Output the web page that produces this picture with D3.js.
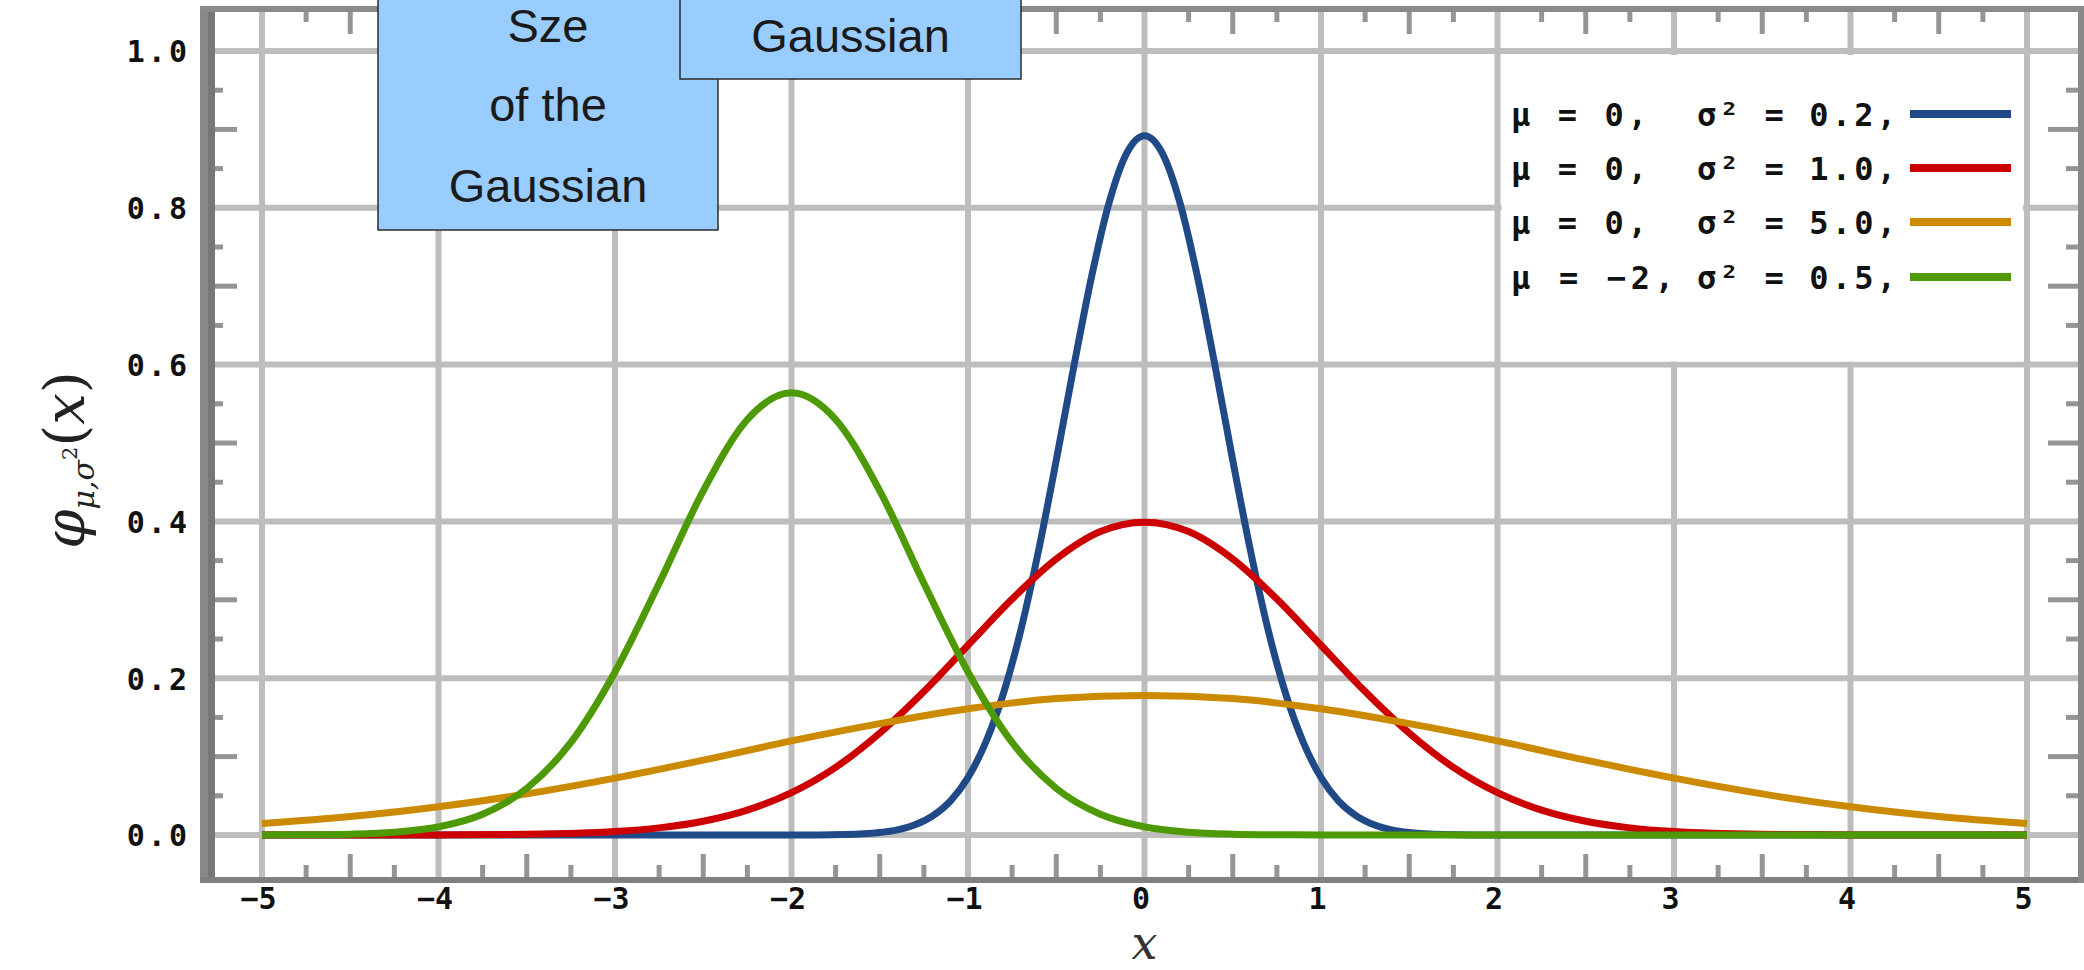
<!DOCTYPE html>
<html>
<head>
<meta charset="utf-8">
<script src="https://cdn.jsdelivr.net/npm/d3@7"></script>
<style>
  html, body { margin: 0; padding: 0; background: #ffffff; }
  svg { display: block; }
</style>
</head>
<body>
<svg id="chart" width="2084" height="970"></svg>
<script>
// ---------------- data ----------------
const xTicks = [-5, -4, -3, -2, -1, 0, 1, 2, 3, 4, 5];
const xTickLabels = ["\u22125", "\u22124", "\u22123", "\u22122", "\u22121", "0", "1", "2", "3", "4", "5"];
const yTicks = [0, 0.2, 0.4, 0.6, 0.8, 1.0];
const yTickLabels = ["0.0", "0.2", "0.4", "0.6", "0.8", "1.0"];

const seriesNames = ["blue", "red", "orange", "green"];
const legendMu = ["\u03bc = 0,", "\u03bc = 0,", "\u03bc = 0,", "\u03bc = \u22122,"];
const legendSigma = ["\u03c3\u00b2 = 0.2,", "\u03c3\u00b2 = 1.0,", "\u03c3\u00b2 = 5.0,", "\u03c3\u00b2 = 0.5,"];
const seriesColors = ["#204a87", "#cc0000", "#cc8a00", "#4e9a06"];

const blueX = [-5, -3, -2, -1.7, -1.5, -1.4, -1.3, -1.2, -1.1, -1.0, -0.9, -0.8, -0.7, -0.6, -0.5, -0.4, -0.3, -0.2, -0.1, 0,
               0.1, 0.2, 0.3, 0.4, 0.5, 0.6, 0.7, 0.8, 0.9, 1.0, 1.1, 1.2, 1.3, 1.4, 1.5, 1.7, 2, 3, 5];
const blueY = [0, 0, 0, 0.0007, 0.0032, 0.0066, 0.0130, 0.0244, 0.0433, 0.0733, 0.118, 0.180, 0.262, 0.363, 0.478, 0.598, 0.712, 0.807, 0.870, 0.892,
               0.870, 0.807, 0.712, 0.598, 0.478, 0.363, 0.262, 0.180, 0.118, 0.0733, 0.0433, 0.0244, 0.0130, 0.0066, 0.0032, 0.0007, 0, 0, 0];

const redX = [-5, -4.5, -4, -3.5, -3, -2.75, -2.5, -2.25, -2, -1.75, -1.5, -1.25, -1, -0.75, -0.5, -0.25, 0,
              0.25, 0.5, 0.75, 1, 1.25, 1.5, 1.75, 2, 2.25, 2.5, 2.75, 3, 3.5, 4, 4.5, 5];
const redY = [0, 0, 0.0001, 0.0009, 0.0044, 0.0091, 0.0175, 0.0317, 0.0540, 0.0863, 0.130, 0.183, 0.242, 0.301, 0.352, 0.387, 0.399,
              0.387, 0.352, 0.301, 0.242, 0.183, 0.130, 0.0863, 0.0540, 0.0317, 0.0175, 0.0091, 0.0044, 0.0009, 0.0001, 0, 0];

const orangeX = [-5, -4.5, -4, -3.5, -3, -2.5, -2, -1.5, -1, -0.5, 0, 0.5, 1, 1.5, 2, 2.5, 3, 3.5, 4, 4.5, 5];
const orangeY = [0.0146, 0.0235, 0.0360, 0.0524, 0.0725, 0.0955, 0.120, 0.142, 0.161, 0.174, 0.178,
                 0.174, 0.161, 0.142, 0.120, 0.0955, 0.0725, 0.0524, 0.0360, 0.0235, 0.0146];

const greenX = [-5, -4.75, -4.5, -4.25, -4, -3.75, -3.5, -3.25, -3, -2.75, -2.5, -2.25, -2, -1.75, -1.5, -1.25, -1,
                -0.75, -0.5, -0.25, 0, 0.25, 0.5, 0.75, 1, 2, 3, 4, 5];
const greenY = [0.0001, 0.0003, 0.0011, 0.0036, 0.0103, 0.0264, 0.0595, 0.118, 0.208, 0.321, 0.439, 0.530, 0.564, 0.530, 0.439, 0.321, 0.208,
                0.118, 0.0595, 0.0264, 0.0103, 0.0036, 0.0011, 0.0003, 0.0001, 0, 0, 0, 0];

const boxLines1 = ["Sze", "of the", "Gaussian"];
const boxLines2 = ["Gaussian"];

// ---------------- drawing ----------------
const svg = d3.select("#chart");
const W = 2084, H = 970;

const x = d3.scaleLinear().domain([-5, 5]).range([262, 2027]);
const y = d3.scaleLinear().domain([0, 1]).range([835, 51]);

const frame = { left: 200, leftInner: 215, top: 6, topInner: 12, bottom: 883, bottomInner: 877, right: 2084, rightInner: 2078 };

svg.append("rect").attr("width", W).attr("height", H).attr("fill", "#ffffff");

const gridColor = "#bdbdbd";
// vertical gridlines
svg.append("g").selectAll("line").data(xTicks).join("line")
  .attr("x1", d => x(d)).attr("x2", d => x(d))
  .attr("y1", frame.topInner).attr("y2", frame.bottomInner)
  .attr("stroke", gridColor).attr("stroke-width", 6);
// horizontal gridlines
svg.append("g").selectAll("line").data(yTicks).join("line")
  .attr("x1", frame.leftInner).attr("x2", frame.rightInner)
  .attr("y1", d => y(d)).attr("y2", d => y(d))
  .attr("stroke", gridColor).attr("stroke-width", 6);

// legend background (hides grid between 1.0 and 0.6 lines)
svg.append("rect").attr("x", x(2) + 4).attr("y", y(1.0) + 4)
  .attr("width", x(5) - x(2) - 8).attr("height", y(0.6) - y(1.0) - 7)
  .attr("fill", "#ffffff");

// minor ticks
const tickColor = "#959595";
const xMinor = d3.range(-4.75, 5, 0.25).filter(v => Math.abs(v - Math.round(v)) > 1e-6);
const isHalf = v => Math.abs(Math.abs(v % 1) - 0.5) < 1e-6;
const gMinor = svg.append("g").attr("stroke", tickColor).attr("stroke-width", 5);
gMinor.selectAll(".tb").data(xMinor).join("line").attr("class", "tb")
  .attr("x1", d => x(d)).attr("x2", d => x(d))
  .attr("y1", frame.bottomInner).attr("y2", d => frame.bottomInner - (isHalf(d) ? 23 : 12));
gMinor.selectAll(".tt").data(xMinor).join("line").attr("class", "tt")
  .attr("x1", d => x(d)).attr("x2", d => x(d))
  .attr("y1", frame.topInner).attr("y2", d => frame.topInner + (isHalf(d) ? 22 : 10));
const yMinor = d3.range(0.05, 1.0, 0.05).filter(v => Math.abs(v * 5 - Math.round(v * 5)) > 1e-6);
const isOddTenth = v => Math.abs(v * 10 - Math.round(v * 10)) < 1e-6;
gMinor.selectAll(".tl").data(yMinor).join("line").attr("class", "tl")
  .attr("y1", d => y(d)).attr("y2", d => y(d))
  .attr("x1", frame.leftInner).attr("x2", d => frame.leftInner + (isOddTenth(d) ? 22 : 8));
gMinor.selectAll(".tr").data(yMinor).join("line").attr("class", "tr")
  .attr("y1", d => y(d)).attr("y2", d => y(d))
  .attr("x1", frame.rightInner).attr("x2", d => frame.rightInner - (isOddTenth(d) ? 30 : 12));

// frame
const gFrame = svg.append("g");
gFrame.append("rect").attr("x", frame.left).attr("y", frame.top).attr("width", 8).attr("height", frame.bottom - frame.top).attr("fill", "#888888");
gFrame.append("rect").attr("x", frame.left + 8).attr("y", frame.top).attr("width", 7).attr("height", frame.bottom - frame.top).attr("fill", "#777777");
gFrame.append("rect").attr("x", frame.left).attr("y", frame.bottomInner).attr("width", W - frame.left).attr("height", 6).attr("fill", "#808080");
gFrame.append("rect").attr("x", frame.left).attr("y", frame.top).attr("width", W - frame.left).attr("height", 6).attr("fill", "#8a8a8a");
gFrame.append("rect").attr("x", frame.rightInner).attr("y", frame.top).attr("width", 6).attr("height", frame.bottom - frame.top).attr("fill", "#8a8a8a");

// curves
const line = d3.line().x(d => x(d[0])).y(d => y(d[1])).curve(d3.curveMonotoneX);
const seriesData = [
  d3.zip(blueX, blueY),
  d3.zip(redX, redY),
  d3.zip(orangeX, orangeY),
  d3.zip(greenX, greenY)
];
svg.append("g").selectAll("path").data(seriesData).join("path")
  .attr("d", d => line(d))
  .attr("fill", "none")
  .attr("stroke", (d, i) => seriesColors[i])
  .attr("stroke-width", 7)
  .attr("stroke-linejoin", "round");

// axes labels (tick text)
const monoFont = "'DejaVu Sans Mono', 'Liberation Mono', monospace";
const gx = svg.append("g").attr("transform", "translate(-4, 887.5)")
  .call(d3.axisBottom(x).tickValues(xTicks).tickFormat((d, i) => xTickLabels[i]).tickSize(0).tickPadding(0));
gx.select(".domain").remove();
gx.selectAll("text").attr("font-family", monoFont).attr("font-size", 30).attr("font-weight", "bold").attr("fill", "#111");

const gy = svg.append("g").attr("transform", "translate(190, 0)")
  .call(d3.axisLeft(y).tickValues(yTicks).tickFormat((d, i) => yTickLabels[i]).tickSize(0).tickPadding(0));
gy.select(".domain").remove();
gy.selectAll("text").attr("font-family", monoFont).attr("font-size", 30).attr("font-weight", "bold").attr("fill", "#111")
  .attr("letter-spacing", 3).attr("dy", "0.36em");

// axis titles
svg.append("text").attr("x", x(0)).attr("y", 959).attr("text-anchor", "middle")
  .attr("font-family", "'DejaVu Serif', serif").attr("font-style", "italic").attr("font-size", 46)
  .attr("fill", "#333").text("x");

const yl = svg.append("text").attr("transform", "translate(84, 460) rotate(-90)")
  .attr("text-anchor", "middle").attr("font-family", "'DejaVu Serif', serif")
  .attr("font-size", 56).attr("fill", "#222");
yl.append("tspan").attr("font-style", "italic").text("\u03c6");
yl.append("tspan").attr("font-style", "italic").attr("font-size", 30).attr("dy", 10).text("\u03bc,\u03c3");
yl.append("tspan").attr("font-size", 21).attr("dy", -17).text("2");
yl.append("tspan").attr("dy", 7).text("(");
yl.append("tspan").attr("font-style", "italic").text("x");
yl.append("tspan").text(")");

// legend
const legendRowsY = [114, 168, 222, 277];
const gLeg = svg.append("g");
seriesNames.forEach((name, i) => {
  const cy = legendRowsY[i];
  gLeg.append("text").attr("x", 1511).attr("y", cy + 12)
    .attr("font-family", monoFont).attr("font-size", 32).attr("font-weight", "bold").attr("fill", "#111")
    .attr("textLength", i === 3 ? 163 : 136).attr("lengthAdjust", "spacing")
    .text(legendMu[i]);
  gLeg.append("text").attr("x", 1697).attr("y", cy + 12)
    .attr("font-family", monoFont).attr("font-size", 32).attr("font-weight", "bold").attr("fill", "#111")
    .attr("textLength", 199).attr("lengthAdjust", "spacing")
    .text(legendSigma[i]);
  gLeg.append("line").attr("x1", 1910).attr("x2", 2011).attr("y1", cy).attr("y2", cy)
    .attr("stroke", seriesColors[i]).attr("stroke-width", 8);
});

// annotation boxes
const boxFont = "'Liberation Sans', Arial, sans-serif";
const b1 = svg.append("g");
b1.append("rect").attr("x", 378).attr("y", -5).attr("width", 340).attr("height", 235)
  .attr("fill", "#99ccff").attr("stroke", "#2b2b2b").attr("stroke-width", 1.5);
b1.selectAll("text").data(boxLines1).join("text")
  .attr("x", 548).attr("y", (d, i) => [42, 121, 202][i])
  .attr("text-anchor", "middle").attr("font-family", boxFont).attr("font-size", 47).attr("fill", "#1a1a1a")
  .text(d => d);
const b2 = svg.append("g");
b2.append("rect").attr("x", 680).attr("y", -5).attr("width", 341).attr("height", 84)
  .attr("fill", "#99ccff").attr("stroke", "#2b2b2b").attr("stroke-width", 1.5);
b2.selectAll("text").data(boxLines2).join("text")
  .attr("x", 850.5).attr("y", 52)
  .attr("text-anchor", "middle").attr("font-family", boxFont).attr("font-size", 47).attr("fill", "#1a1a1a")
  .text(d => d);
</script>
</body>
</html>
